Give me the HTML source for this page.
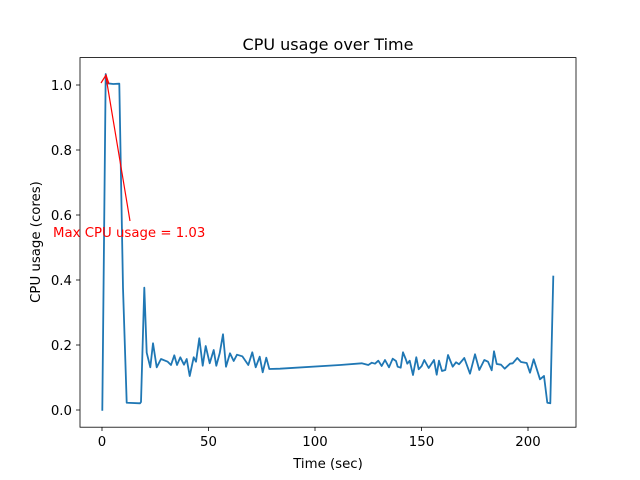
<!DOCTYPE html>
<html><head><style>body{margin:0;background:#fff}svg{display:block}text{font-family:"DejaVu Sans","Liberation Sans",sans-serif}</style></head>
<body>
<svg width="640" height="480" viewBox="0 0 640 480" xmlns="http://www.w3.org/2000/svg">
<rect width="640" height="480" fill="#fff"/>
<polyline fill="none" stroke="#1f77b4" stroke-width="1.8" stroke-linejoin="round" points="102.3,410.7 105.7,74 107.3,83.3 113.3,84 119.3,83.7 123,288 126.7,402.7 140,403.3 141,402 144.3,287.7 146.7,352.7 150.3,367.3 153,343.3 156.7,367.3 161,359 167.7,361.7 171,365 174.3,355.3 177,365 180.3,357.3 184,364.7 186.7,359 189.7,376 193.7,357.3 196,361.7 199.3,338.3 202.7,365.7 205.7,346 209.7,363.3 213.7,350 216.3,365.7 219.7,353.3 223,334.3 226,366.7 230,353.3 233.7,361 237,354.7 242.3,356.3 248.3,365 252.3,352.3 255.7,367.3 259.7,356.7 262.7,372.3 266.3,357.7 269.3,369 280,368.7 340,365 361.7,363.3 368.3,365 371.7,362.7 375,363.7 378.3,360.7 381.7,366 385,360 389,367.3 392.7,358.7 396,361 397.7,366.7 400.7,367.7 403,352.3 405.7,359 407.3,363.7 409.7,360.7 413,375 416.3,357.3 418.7,369.3 421.7,366 424.3,360 428.7,368 434,360 436.7,374.7 439,360.7 442,371 445.3,370 448,355 452.7,366.7 456,362.3 459,364.3 464.3,358 470,373.7 475,354.3 479.3,370 484.3,360 488,361.7 491.7,370.3 494,351.3 496.7,364 501,364.7 504.7,368.7 510,363.7 512.7,363.3 517.3,358 521,362 526.7,363 530,372.7 533.7,359.3 540,379.3 544,376 547.3,402.7 550.3,403.3 553.3,275.7"/>
<line x1="130" y1="221" x2="106" y2="77" stroke="red" stroke-width="1.2"/>
<polyline points="101,83 106,75 109,84" fill="none" stroke="red" stroke-width="1.2"/>
<text x="53" y="237" font-size="13.3" fill="red">Max CPU usage = 1.03</text>
<rect x="80" y="57.6" width="496" height="369.6" fill="none" stroke="#000" stroke-width="0.8"/>
<g stroke="#000" stroke-width="0.8">
<line x1="102" y1="427" x2="102" y2="431"/><line x1="208.5" y1="427" x2="208.5" y2="431"/><line x1="315" y1="427" x2="315" y2="431"/><line x1="421.5" y1="427" x2="421.5" y2="431"/><line x1="528" y1="427" x2="528" y2="431"/>
<line x1="76" y1="410" x2="80" y2="410"/><line x1="76" y1="345" x2="80" y2="345"/><line x1="76" y1="280" x2="80" y2="280"/><line x1="76" y1="215" x2="80" y2="215"/><line x1="76" y1="150" x2="80" y2="150"/><line x1="76" y1="85" x2="80" y2="85"/>
</g>
<g font-size="13.3" text-anchor="middle">
<text x="102" y="446">0</text><text x="208.5" y="446">50</text><text x="315" y="446">100</text><text x="421.5" y="446">150</text><text x="528" y="446">200</text>
</g>
<g font-size="13.3" text-anchor="end">
<text x="72" y="415">0.0</text><text x="72" y="350">0.2</text><text x="72" y="285">0.4</text><text x="72" y="220">0.6</text><text x="72" y="155">0.8</text><text x="72" y="90">1.0</text>
</g>
<text x="328" y="468" font-size="13.3" text-anchor="middle">Time (sec)</text>
<text transform="translate(40,242) rotate(-90)" font-size="13.3" text-anchor="middle">CPU usage (cores)</text>
<text x="328" y="50" font-size="16" text-anchor="middle">CPU usage over Time</text>
</svg>
</body></html>
